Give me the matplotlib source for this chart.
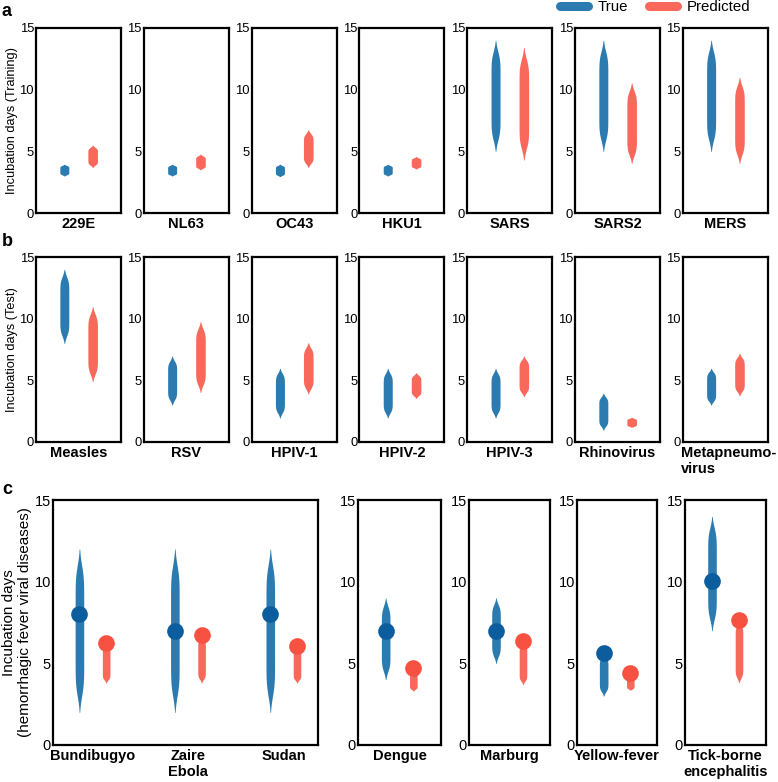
import math
import numpy as np
import matplotlib
matplotlib.use("Agg")
import matplotlib.pyplot as plt
import matplotlib.transforms as mtransforms
from matplotlib.lines import Line2D

plt.rcParams['font.family'] = ['Liberation Sans', 'DejaVu Sans']

# ---------------- data ----------------
train_names = ["229E", "NL63", "OC43", "HKU1", "SARS", "SARS2", "MERS"]
train_true_lo = [3.0, 3.0, 2.95, 3.0, 5.0, 5.0, 5.0]
train_true_hi = [3.95, 3.95, 3.95, 3.95, 14.0, 14.0, 14.0]
train_pred_lo = [3.7, 3.5, 3.7, 3.57, 4.3, 4.03, 4.03]
train_pred_hi = [5.5, 4.76, 6.75, 4.57, 13.4, 10.55, 11.0]

test_names = ["Measles", "RSV", "HPIV-1", "HPIV-2", "HPIV-3", "Rhinovirus", "Metapneumo-\nvirus"]
test_true_lo = [8.0, 3.0, 1.95, 1.95, 1.95, 0.97, 3.0]
test_true_hi = [14.0, 6.97, 5.97, 5.97, 5.97, 3.95, 5.97]
test_pred_lo = [4.9, 4.03, 3.9, 3.54, 3.68, 1.19, 3.75]
test_pred_hi = [10.97, 9.76, 8.05, 5.62, 6.97, 2.0, 7.19]

hf_names = ["Bundibugyo", "Zaire\nEbola", "Sudan", "Dengue", "Marburg", "Yellow-fever", "Tick-borne\nencephalitis"]
hf_true_lo = [2.0, 2.0, 2.0, 4.0, 5.0, 3.0, 7.0]
hf_true_hi = [12.0, 12.0, 12.0, 9.0, 9.0, 5.65, 14.0]
hf_true_mid = [8.0, 6.95, 8.0, 6.95, 6.95, 5.65, 10.05]
hf_pred_lo = [3.8, 3.8, 3.8, 3.3, 3.7, 3.35, 3.8]
hf_pred_val = [6.22, 6.72, 6.05, 4.7, 6.35, 4.42, 7.65]

yticks = [0, 5, 10, 15]

BLUE = '#2b7bb1'
RED = '#f8695c'
BLUE_DOT = '#0c5d9d'
RED_DOT = '#f75241'

W, H = 778, 782
fig = plt.figure(figsize=(W / 100, H / 100), dpi=100)

verf = np.vectorize(math.erf)
XLAB_FS = 10.5


def spindle(ax, xc, lo, hi, hw, color, frac=0.065):
    y = np.linspace(lo, hi, 400)
    s = frac * (hi - lo)
    a = lo + 1.5 * s
    b = hi - 1.5 * s
    p = 0.5 * (verf((y - a) / (s * math.sqrt(2))) - verf((y - b) / (s * math.sqrt(2))))
    p = p / p.max()
    ax.fill_betweenx(y, xc - hw * p, xc + hw * p, color=color, lw=0)


def style(ax, tick_fs):
    ax.set_ylim(0, 15)
    ax.set_yticks(yticks)
    ax.tick_params(axis='both', length=0, labelsize=tick_fs, pad=1.5)
    ax.tick_params(axis='x', labelsize=XLAB_FS, pad=3)
    for lab in ax.get_xticklabels():
        lab.set_fontweight('bold')
    for sp in ax.spines.values():
        sp.set_linewidth(1.6)
        sp.set_color('black')


def px_to_data(ax_w_px, xr, px):
    return px * xr / ax_w_px


# rows a & b
pw = 85
lefts = [36 + i * 107.8 for i in range(7)]
rows = [
    (28, 213, train_names, train_true_lo, train_true_hi, train_pred_lo, train_pred_hi, "Incubation days (Training)"),
    (257, 442, test_names, test_true_lo, test_true_hi, test_pred_lo, test_pred_hi, "Incubation days (Test)"),
]
for (top, bot, names, tlo, thi, plo, phi, ylab) in rows:
    for i in range(7):
        ax = fig.add_axes([lefts[i] / W, 1 - bot / H, pw / W, (bot - top) / H])
        xr = 3.0
        ax.set_xlim(-1, 2)
        hw_b = px_to_data(pw, xr, 4.5)
        hw_r = px_to_data(pw, xr, 4.8)
        spindle(ax, 0, tlo[i], thi[i], hw_b, BLUE)
        spindle(ax, 1, plo[i], phi[i], hw_r, RED)
        ax.set_xticks([0.5])
        ax.set_xticklabels([names[i]], fontweight='bold', multialignment='left')
        style(ax, 9.4)
        if "\n" in names[i]:
            for lab in ax.get_xticklabels():
                lab.set_transform(lab.get_transform() +
                                  mtransforms.ScaledTranslation(3 / 100, 0, fig.dpi_scale_trans))
        if i == 0:
            ax.set_ylabel(ylab, fontsize=9.2, labelpad=1)

# row c
top, bot = 500, 745
c_lefts = [53, 358, 469, 577, 685]
c_widths = [265, 83, 81, 80, 81]
ax0 = fig.add_axes([53 / W, 1 - bot / H, 265 / W, (bot - top) / H])
xlo, xhi = -0.417, 2.36
ax0.set_xlim(xlo, xhi)
off = 0.14
for g in range(3):
    spindle(ax0, g - off, hf_true_lo[g], hf_true_hi[g], px_to_data(265, xhi - xlo, 4.3), BLUE)
    spindle(ax0, g + off, hf_pred_lo[g], hf_pred_val[g], px_to_data(265, xhi - xlo, 3.8), RED, frac=0.05)
    ax0.plot([g - off], [hf_true_mid[g]], 'o', ms=12, color=BLUE_DOT, mec='none', zorder=5)
    ax0.plot([g + off], [hf_pred_val[g]], 'o', ms=12, color=RED_DOT, mec='none', zorder=5)
ax0.set_xticks([0, 1, 2])
ax0.set_xticklabels(hf_names[:3], fontweight='bold')
style(ax0, 10.5)
ax0.set_ylabel("Incubation days\n(hemorrhagic fever viral diseases)", fontsize=11, labelpad=2,
               linespacing=1.15)

for j in range(3, 7):
    k = j - 2
    wpx = c_widths[k]
    ax = fig.add_axes([c_lefts[k] / W, 1 - bot / H, wpx / W, (bot - top) / H])
    ax.set_xlim(-1, 2)
    spindle(ax, 0, hf_true_lo[j], hf_true_hi[j], px_to_data(wpx, 3, 4.3), BLUE)
    spindle(ax, 1, hf_pred_lo[j], hf_pred_val[j], px_to_data(wpx, 3, 3.8), RED, frac=0.05)
    ax.plot([0], [hf_true_mid[j]], 'o', ms=12, color=BLUE_DOT, mec='none', zorder=5)
    ax.plot([1], [hf_pred_val[j]], 'o', ms=12, color=RED_DOT, mec='none', zorder=5)
    ax.set_xticks([0.5])
    ax.set_xticklabels([hf_names[j]], fontweight='bold')
    style(ax, 10.5)

# panel letters
fig.text(2 / W, 1 - 11 / H, 'a', fontsize=13, fontweight='bold', va='center')
fig.text(2 / W, 1 - 242 / H, 'b', fontsize=13, fontweight='bold', va='center')
fig.text(2 / W, 1 - 489 / H, 'c', fontsize=13, fontweight='bold', va='center')

# legend
handles = [Line2D([0], [0], color=BLUE, lw=6.5, solid_capstyle='round'),
           Line2D([0], [0], color=RED, lw=6.5, solid_capstyle='round')]
fig.legend(handles, ['True', 'Predicted'], loc='center right', bbox_to_anchor=(750 / W, 1 - 7 / H),
           ncol=2, frameon=False, fontsize=10.8, handlelength=1.9, columnspacing=1.4,
           handletextpad=0.6, borderaxespad=0, borderpad=0)

fig.savefig('out.png', dpi=100)
